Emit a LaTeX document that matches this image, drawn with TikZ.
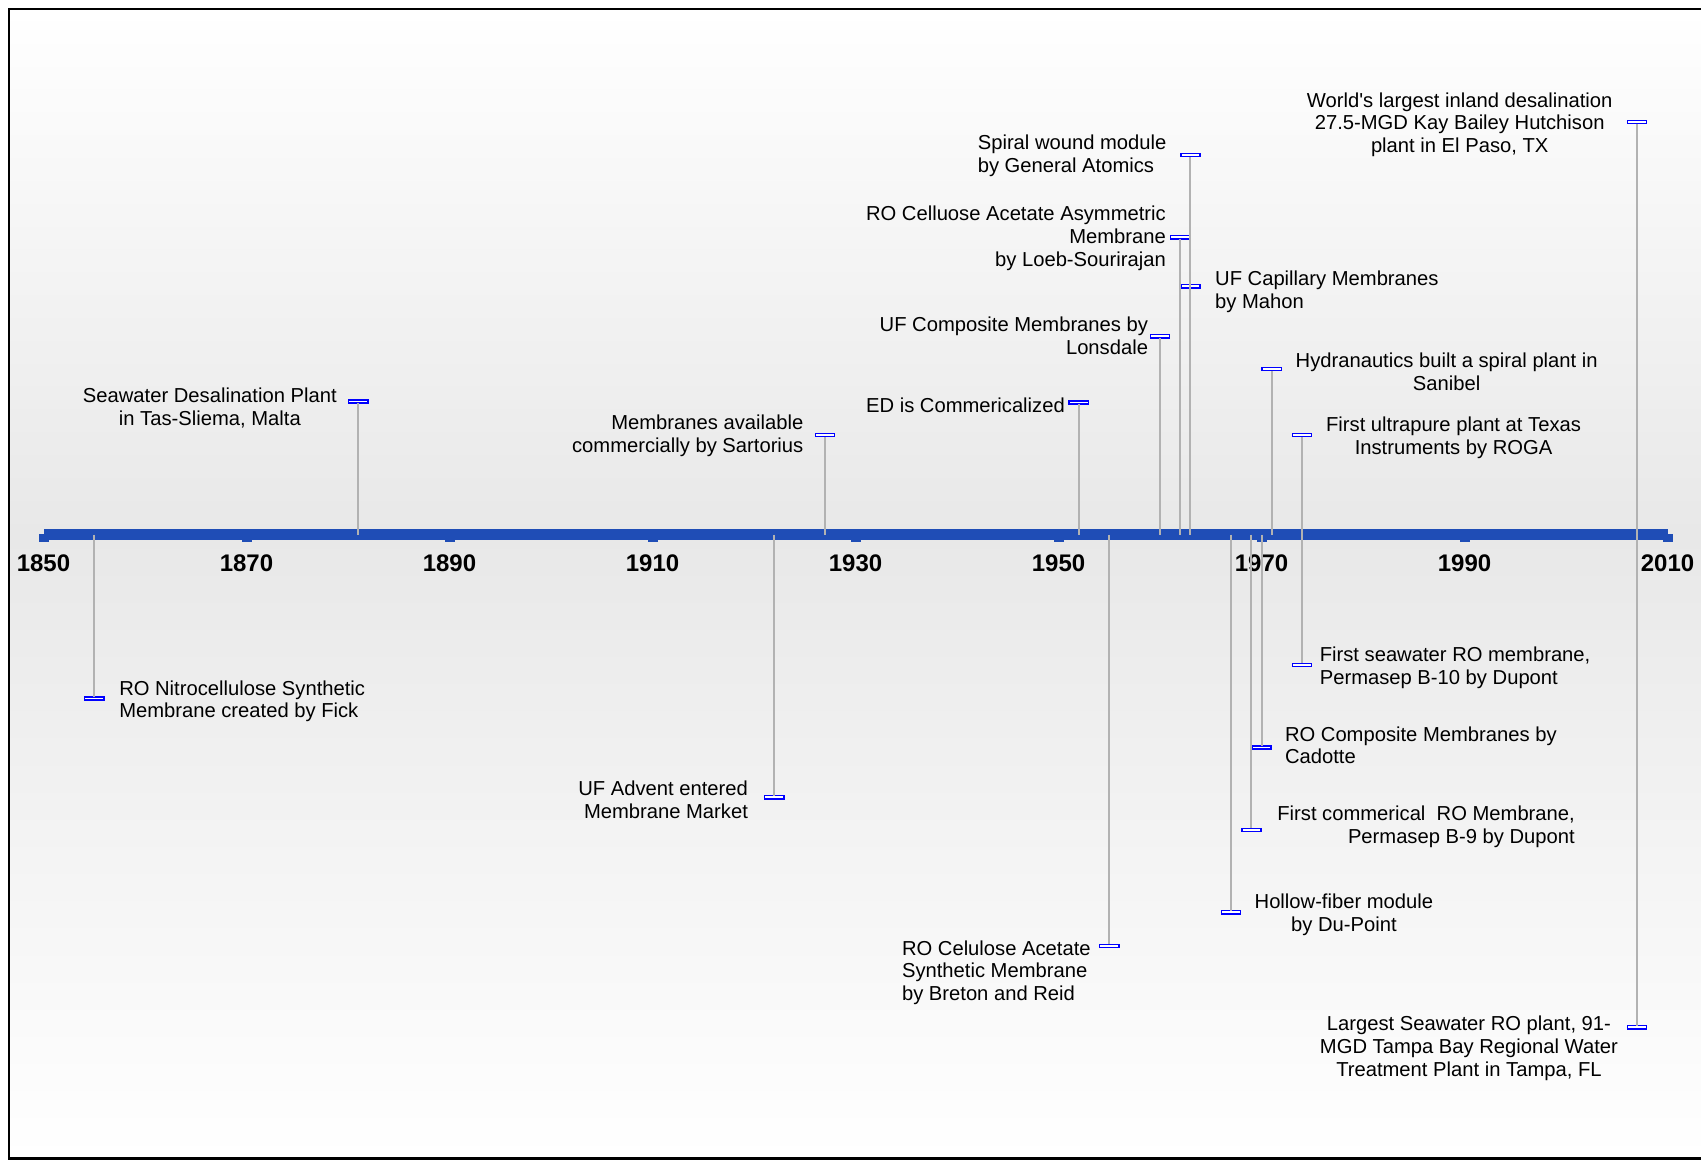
\documentclass[tikz,border=0pt]{standalone}
\usepackage{fontspec}
\setmainfont{Liberation Sans}
\usetikzlibrary{positioning}
\definecolor{axisblue}{RGB}{31,77,182}
\definecolor{stemgray}{RGB}{178,178,178}
\definecolor{boxblue}{RGB}{0,0,255}
\definecolor{bandgray}{RGB}{232,232,232}
% year -> x (in px)
\newcommand{\yrx}[1]{43.5+10.15*(#1-1850)}

\begin{document}
\begin{tikzpicture}[x=0.5pt,y=-0.5pt,
	evbox/.style={rectangle,draw=boxblue,fill=white,line width=0.75pt,minimum width=9.6pt,minimum height=1.6pt,inner sep=0,outer sep=0},
	stemline/.style={draw=stemgray,line width=1pt},
	evtext/.style={font=\fontsize{10.1}{11.4}\selectfont,inner sep=0,yshift=-1.35pt},
	yrtext/.style={font=\fontsize{12}{14}\selectfont\bfseries,inner sep=0}]
	\useasboundingbox (0,0) rectangle (1701,1160);
	% Frame and background
	\fill[white] (0,0) rectangle (1701,1160);
	\shade[top color=white,bottom color=bandgray] (9,9) rectangle (1720,534.5);
	\shade[top color=bandgray,bottom color=white] (9,534.5) rectangle (1720,1158.5);
	\draw[line width=1.2pt] (9,9) rectangle (1720,1158.5);
	% Axis
	\fill[axisblue] ({\yrx{1850}},529) rectangle ({\yrx{2010}},540);
	\foreach \yr in {1850,1870,...,2010} {
		\fill[axisblue] ({\yrx{\yr}-5},534) rectangle ({\yrx{\yr}+5},542);
		\node[yrtext] (y\yr) at ({\yrx{\yr}},563) {\yr};
	}
	% Markers above the axis
	\node[evbox] (m2) at ({\yrx{1881}},401.4) {};
	\node[evbox] (m4) at ({\yrx{1927}},435) {};
	\node[evbox] (m5) at ({\yrx{1952}},402.5) {};
	\node[evbox] (m7) at ({\yrx{1960}},336.3) {};
	\node[evbox] (m8) at ({\yrx{1962}},237.3) {};
	\node[evbox] (m9) at ({\yrx{1963}},155) {};
	\node[evbox] (m10) at ({\yrx{1963}},286.3) {};
	\node[evbox] (m14) at ({\yrx{1971}},369) {};
	\node[evbox] (m15) at ({\yrx{1974}},435) {};
	\node[evbox] (m17) at ({\yrx{2007}},122) {};
	% Markers below the axis
	\node[evbox] (m1) at ({\yrx{1855}},698.6) {};
	\node[evbox] (m3) at ({\yrx{1922}},797.3) {};
	\node[evbox] (m6) at ({\yrx{1955}},946) {};
	\node[evbox] (m11) at ({\yrx{1967}},912.3) {};
	\node[evbox] (m12) at ({\yrx{1969}},829.9) {};
	\node[evbox] (m13) at ({\yrx{1970}},747.4) {};
	\node[evbox] (m16) at ({\yrx{1974}},665) {};
	\node[evbox] (m18) at ({\yrx{2007}},1027.3) {};
	% Stems
	\foreach \m/\yr in {m1/1855,m2/1881,m3/1922,m4/1927,m5/1952,m6/1955,m7/1960,m8/1962,m9/1963,m10/1963,
		m11/1967,m12/1969,m13/1970,m14/1971,m15/1974,m16/1974,m17/2007,m18/2007} {
		\coordinate (a\m) at ({\yrx{\yr}},534.5);
		\draw[stemline] (a\m) -- (\m);
	}
	% Labels above
	\node[evtext,align=center,left=5.7pt of m2,yshift=-2pt] (t2) {Seawater Desalination Plant\\in Tas-Sliema, Malta};
	\node[evtext,align=right,left=5.85pt of m4,yshift=0.8pt] (t4) {Membranes available\\commercially by Sartorius};
	\node[evtext,left=2pt of m5] (t5) {ED is Commericalized};
	\node[evtext,align=right,left=1pt of m7,yshift=1.75pt] (t7) {UF Composite Membranes by\\Lonsdale};
	\node[evtext,align=right,left=2.25pt of m8,yshift=0.85pt] (t8) {RO Celluose Acetate Asymmetric\\Membrane\\by Loeb-Sourirajan};
	\node[evtext,align=left,left=7pt of m9,yshift=1pt] (t9) {Spiral wound module\\by General Atomics};
	\node[evtext,align=left,right=7.35pt of m10,yshift=-1.2pt] (t10) {UF Capillary Membranes\\by Mahon};
	\node[evtext,align=center,right=7pt of m14] (t14) {Hydranautics built a spiral plant in\\Sanibel};
	\node[evtext,align=center,right=7pt of m15] (t15) {First ultrapure plant at Texas\\Instruments by ROGA};
	\node[evtext,align=center,left=7.3pt of m17] (t17) {World\textquotesingle s largest inland desalination\\27.5-MGD Kay Bailey Hutchison\\plant in El Paso, TX};
	% Labels below
	\node[evtext,align=left,right=7.5pt of m1] (t1) {RO Nitrocellulose Synthetic\\Membrane created by Fick};
	\node[evtext,align=right,left=8.2pt of m3] (t3) {UF Advent entered\\Membrane Market};
	\node[evtext,align=left,left=4.3pt of m6,yshift=-12pt] (t6) {RO Celulose Acetate\\Synthetic Membrane\\by Breton and Reid};
	\node[evtext,align=center,right=6.8pt of m11] (t11) {Hollow-fiber module\\by Du-Point};
	\node[evtext,align=right,right=8pt of m12,yshift=3pt] (t12) {First commerical\ \ RO Membrane,\\Permasep B-9 by Dupont};
	\node[evtext,align=left,right=6.75pt of m13,yshift=2.4pt] (t13) {RO Composite Membranes by\\Cadotte};
	\node[evtext,align=left,right=3.85pt of m16] (t16) {First seawater RO membrane,\\Permasep B-10 by Dupont};
	\node[evtext,align=center,left=4.6pt of m18,yshift=-9pt] (t18) {Largest Seawater RO plant, 91-\\MGD Tampa Bay Regional Water\\Treatment Plant in Tampa, FL};
\end{tikzpicture}
\end{document}
